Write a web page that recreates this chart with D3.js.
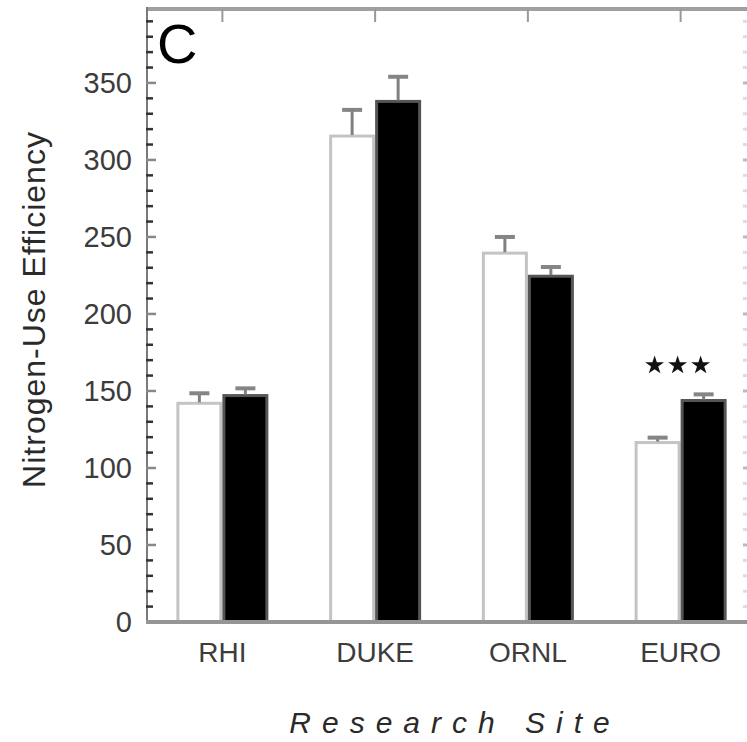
<!DOCTYPE html>
<html>
<head>
<meta charset="utf-8">
<script src="https://cdn.jsdelivr.net/npm/d3@7/dist/d3.min.js"></script>
<style>
  html, body { margin: 0; padding: 0; background: #fff; }
  svg { display: block; font-family: "Liberation Sans", Arial, Helvetica, sans-serif; }
</style>
</head>
<body>
<script>
// values (panel C)
const sites = ["RHI", "DUKE", "ORNL", "EURO"];
const treatments = ["ambient", "elevated"];
const ambient = [142, 315.5, 239.5, 116.5];
const elevated = [147, 338, 224.5, 143.8];
const ambientErr = [6.5, 17, 10.5, 3.2];
const elevatedErr = [4.7, 16, 6, 4];
const signif = ["", "", "", "***"];
const yTicks = [0, 50, 100, 150, 200, 250, 300, 350];

const W = 747, H = 742;
const plotLeft = 147, plotRight = 746, plotTop = 9, plotBottom = 622;

const svg = d3.select("body").append("svg")
  .attr("width", W)
  .attr("height", H);

const x = d3.scaleBand().domain(sites).range([146, 757]).padding(0);
const y = d3.scaleLinear().domain([0, 398]).range([plotBottom, plotTop]);
const barW = 46;
const x1 = d3.scaleBand().domain(treatments).range([-barW, barW]);

const rows = sites.map((s, i) => ({
  site: s,
  bars: [
    { t: "ambient", v: ambient[i], e: ambientErr[i] },
    { t: "elevated", v: elevated[i], e: elevatedErr[i] }
  ],
  sig: signif[i]
}));

// frame: top border with ticks at the sites
svg.append("line")
  .attr("x1", plotLeft).attr("x2", W)
  .attr("y1", plotTop).attr("y2", plotTop)
  .attr("stroke", "#a0a0a0").attr("stroke-width", 4);

svg.selectAll(".ttick").data(sites).join("line")
  .attr("x1", d => x(d) + x.bandwidth() / 2)
  .attr("x2", d => x(d) + x.bandwidth() / 2)
  .attr("y1", plotTop).attr("y2", plotTop + 13)
  .attr("stroke", "#999").attr("stroke-width", 2);

// right side: faint ticks only
const minor = d3.range(0, 400, 10);
svg.selectAll(".rtick").data(minor).join("line")
  .attr("x1", plotRight - 3).attr("x2", plotRight + 1)
  .attr("y1", d => y(d)).attr("y2", d => y(d))
  .attr("stroke", d => d % 50 === 0 ? "#bbb" : "#ddd").attr("stroke-width", 3);

// bars
const g = svg.selectAll(".site").data(rows).join("g")
  .attr("transform", d => `translate(${x(d.site) + x.bandwidth() / 2},0)`);

g.selectAll("rect").data(d => d.bars).join("rect")
  .attr("x", d => x1(d.t) + 1.5)
  .attr("y", d => y(d.v))
  .attr("width", x1.bandwidth() - 3)
  .attr("height", d => y(0) - y(d.v))
  .attr("fill", d => d.t === "ambient" ? "#fff" : "#000")
  .attr("stroke", d => d.t === "ambient" ? "#c4c4c4" : "#555")
  .attr("stroke-width", 3);

// error bars (upward only)
g.selectAll(".err").data(d => d.bars).join("line")
  .attr("class", "err")
  .attr("x1", d => x1(d.t) + x1.bandwidth() / 2)
  .attr("x2", d => x1(d.t) + x1.bandwidth() / 2)
  .attr("y1", d => y(d.v) - 1)
  .attr("y2", d => y(d.v + d.e))
  .attr("stroke", "#808080").attr("stroke-width", 3);

g.selectAll(".cap").data(d => d.bars).join("line")
  .attr("class", "cap")
  .attr("x1", d => x1(d.t) + x1.bandwidth() / 2 - 10)
  .attr("x2", d => x1(d.t) + x1.bandwidth() / 2 + 10)
  .attr("y1", d => y(d.v + d.e))
  .attr("y2", d => y(d.v + d.e))
  .attr("stroke", "#858585").attr("stroke-width", 4);

// significance stars
const star = d3.symbol().type(d3.symbolStar).size(110);
rows.filter(d => d.sig).forEach(d => {
  const n = d.sig.length;
  const cx = x(d.site) + x.bandwidth() / 2 - 3;
  const topV = d3.max(d.bars, b => b.v + b.e);
  for (let k = 0; k < n; k++) {
    svg.append("path")
      .attr("d", star)
      .attr("transform", `translate(${cx + (k - (n - 1) / 2) * 23},${y(topV) - 29})`)
      .attr("fill", "#111");
  }
});

// left axis
svg.append("line")
  .attr("x1", plotLeft).attr("x2", plotLeft)
  .attr("y1", plotTop - 2).attr("y2", plotBottom)
  .attr("stroke", "#7a7a7a").attr("stroke-width", 2);

svg.selectAll(".ltick").data(minor).join("line")
  .attr("x1", plotLeft - 1)
  .attr("x2", d => d % 50 === 0 ? plotLeft + 9 : plotLeft + 6)
  .attr("y1", d => y(d)).attr("y2", d => y(d))
  .attr("stroke", d => d % 50 === 0 ? "#888" : "#333").attr("stroke-width", 2.5);

svg.selectAll(".ylab").data(yTicks).join("text")
  .attr("x", 132)
  .attr("y", d => y(d))
  .attr("dy", "0.36em")
  .attr("text-anchor", "end")
  .attr("font-size", 29)
  .attr("fill", "#3c3c3c")
  .text(d => d);

// bottom axis
svg.append("line")
  .attr("x1", plotLeft - 1).attr("x2", W)
  .attr("y1", plotBottom).attr("y2", plotBottom)
  .attr("stroke", "#959595").attr("stroke-width", 4);

svg.selectAll(".xlab").data(sites).join("text")
  .attr("x", d => x(d) + x.bandwidth() / 2)
  .attr("y", 662)
  .attr("text-anchor", "middle")
  .attr("font-size", 28)
  .attr("fill", "#3c3c3c")
  .text(d => d);

// titles
svg.append("text")
  .attr("transform", `translate(45,${(plotTop + plotBottom) / 2 - 6}) rotate(-90)`)
  .attr("text-anchor", "middle")
  .attr("font-size", 32)
  .attr("letter-spacing", 1)
  .attr("fill", "#2a2a2a")
  .text("Nitrogen-Use Efficiency");

svg.append("text")
  .attr("x", 455)
  .attr("y", 733)
  .attr("text-anchor", "middle")
  .attr("font-size", 30)
  .attr("font-style", "italic")
  .attr("letter-spacing", 11)
  .attr("fill", "#2a2a2a")
  .text("Research Site");

// panel letter
svg.append("text")
  .attr("x", 157)
  .attr("y", 63)
  .attr("font-size", 56)
  .attr("fill", "#000")
  .text("C");
</script>
</body>
</html>
